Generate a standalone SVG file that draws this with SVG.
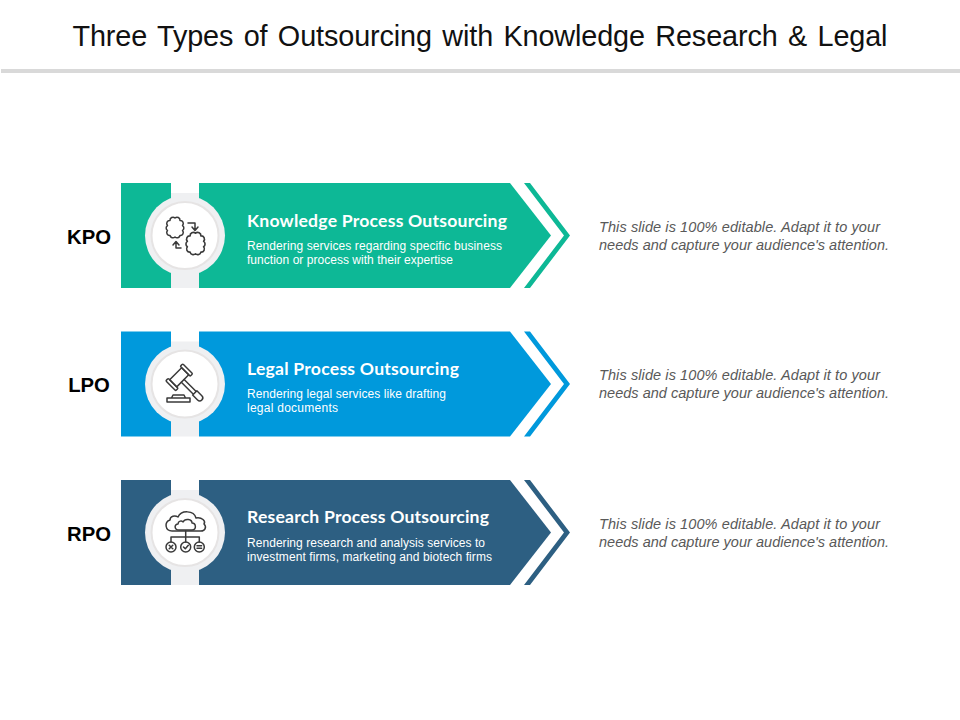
<svg xmlns="http://www.w3.org/2000/svg" width="960" height="720" viewBox="0 0 960 720">
<style>
.t{font-family:"Liberation Sans",Arial,sans-serif}
.title{font-size:28.8px;fill:#111;word-spacing:2.5px}
.abbr{font-size:20.3px;font-weight:bold;fill:#000}
.head{font-family:Lato,"Open Sans",sans-serif;font-size:17.6px;font-weight:bold;fill:#fff}
.sub{font-size:12px;fill:#fff}
.note{font-size:14.5px;font-style:italic;fill:#595959}
.ic{fill:none;stroke:#3a3a3a;stroke-width:1.5;stroke-linejoin:round;stroke-linecap:round}
.halo{fill:#eff0f2}
.ring{fill:#fff;stroke:#e6e4e4;stroke-width:2}
</style>
<defs>
<g id="arrow">
<path d="M0 0H50V105H0Z"/>
<path d="M78 0H389L430 52.500L389 105H78Z"/>
<path d="M403 0H409L449 52.500L409 105H403L443 52.500Z"/>
</g>
<g id="disc">
<rect class="halo" x="50" y="10" width="28" height="95"/>
<circle class="halo" cx="64" cy="52.500" r="40"/>
<circle class="ring" cx="64" cy="52.500" r="33.500"/>
</g>
<path id="brain" d="M0-9.500A3 3 0 0 1 5-7A3 3 0 0 1 7.500-2A3 3 0 0 1 7.500 3A3 3 0 0 1 5 8A3 3 0 0 1 0 9.500A3 3 0 0 1-5 8A3 3 0 0 1-7.500 3A3 3 0 0 1-7.500-2A3 3 0 0 1-5-7A3 3 0 0 1 0-9.500Z"/>
</defs>
<text class="t title" x="480" y="46" text-anchor="middle" textLength="815">Three Types of Outsourcing with Knowledge Research &amp; Legal</text>
<rect x="1" y="69" width="959" height="4" fill="#d9d9d9"/>

<g id="kpo" transform="translate(121 183)">
<use href="#arrow" fill="#0db896"/><use href="#disc"/>
<g class="ic">
<use href="#brain" transform="translate(54 44.500)"/>
<use href="#brain" transform="translate(74.500 60.500) scale(1.08)"/>
<path d="M67 40h7v7M71 44l3 3.500 3-3.500"/>
<path d="M60 65h-5v-6M52 62l3-3.500 3 3.500"/>
</g>
<text class="head" x="126" y="43.500" textLength="260">Knowledge Process Outsourcing</text>
<text class="t sub" x="126" y="67" textLength="255">Rendering services regarding specific business</text>
<text class="t sub" x="126" y="80.500" textLength="206">function or process with their expertise</text>
</g>

<g id="lpo" transform="translate(121 331.500)">
<use href="#arrow" fill="#0099dc"/><use href="#disc"/>
<g class="ic">
<g transform="translate(58.200 45.800) rotate(45)">
<rect x="-5" y="-8.500" width="10" height="17"/>
<rect x="-7" y="-12" width="14" height="3.500" rx="1"/>
<rect x="-7" y="8.500" width="14" height="3.500" rx="1"/>
<path d="M5-2H22V2H5M22-3H29C31-3 32-1.500 32 0S31 3 29 3H22Z"/>
</g>
<path d="M50.500 66.500l1.500-3H63l1.500 3M46 66.500h23v4H46Z"/>
</g>
<text class="head" x="126" y="43" textLength="212">Legal Process Outsourcing</text>
<text class="t sub" x="126" y="66" textLength="199">Rendering legal services like drafting</text>
<text class="t sub" x="126" y="80" textLength="91">legal documents</text>
</g>

<g id="rpo" transform="translate(121 480)">
<use href="#arrow" fill="#2d5f82"/><use href="#disc"/>
<g class="ic">
<path d="M51 51C44 51 43 42 49 40C49 36 54 35 57 37C60 30 73 30 75 38C81 37 85 41 83 44C86 47 84 51 80 51Z"/>
<path d="M58 50C53 50 53 44 57 44C57 41 61 40 62 42C64 38 71 39 71 43C75 43 76 50 71 50Z"/>
<path d="M64.700 51V62M50 62V57H78.300V62"/>
<circle cx="50" cy="67" r="5"/><circle cx="64.700" cy="67" r="5"/><circle cx="78.300" cy="67" r="5"/>
<path d="M48.200 65.200l3.600 3.600M51.800 65.200l-3.600 3.600M62.500 67l1.800 1.800 3-3.500M76 65.800h4.600M76 68.200h4.600"/>
</g>
<text class="head" x="126" y="42.500" textLength="242">Research Process Outsourcing</text>
<text class="t sub" x="126" y="67" textLength="238">Rendering research and analysis services to</text>
<text class="t sub" x="126" y="80.500" textLength="245">investment firms, marketing and biotech firms</text>
</g>

<text class="t abbr" x="89" y="244" text-anchor="middle">KPO</text>
<text class="t abbr" x="89" y="392" text-anchor="middle">LPO</text>
<text class="t abbr" x="89" y="541" text-anchor="middle">RPO</text>

<g id="note1"><text class="t note" x="599" y="232" textLength="281">This slide is 100% editable. Adapt it to your</text><text class="t note" x="599" y="250" textLength="290">needs and capture your audience's attention.</text></g>
<g id="note2"><text class="t note" x="599" y="380" textLength="281">This slide is 100% editable. Adapt it to your</text><text class="t note" x="599" y="398" textLength="290">needs and capture your audience's attention.</text></g>
<g id="note3"><text class="t note" x="599" y="529" textLength="281">This slide is 100% editable. Adapt it to your</text><text class="t note" x="599" y="547" textLength="290">needs and capture your audience's attention.</text></g>
</svg>
